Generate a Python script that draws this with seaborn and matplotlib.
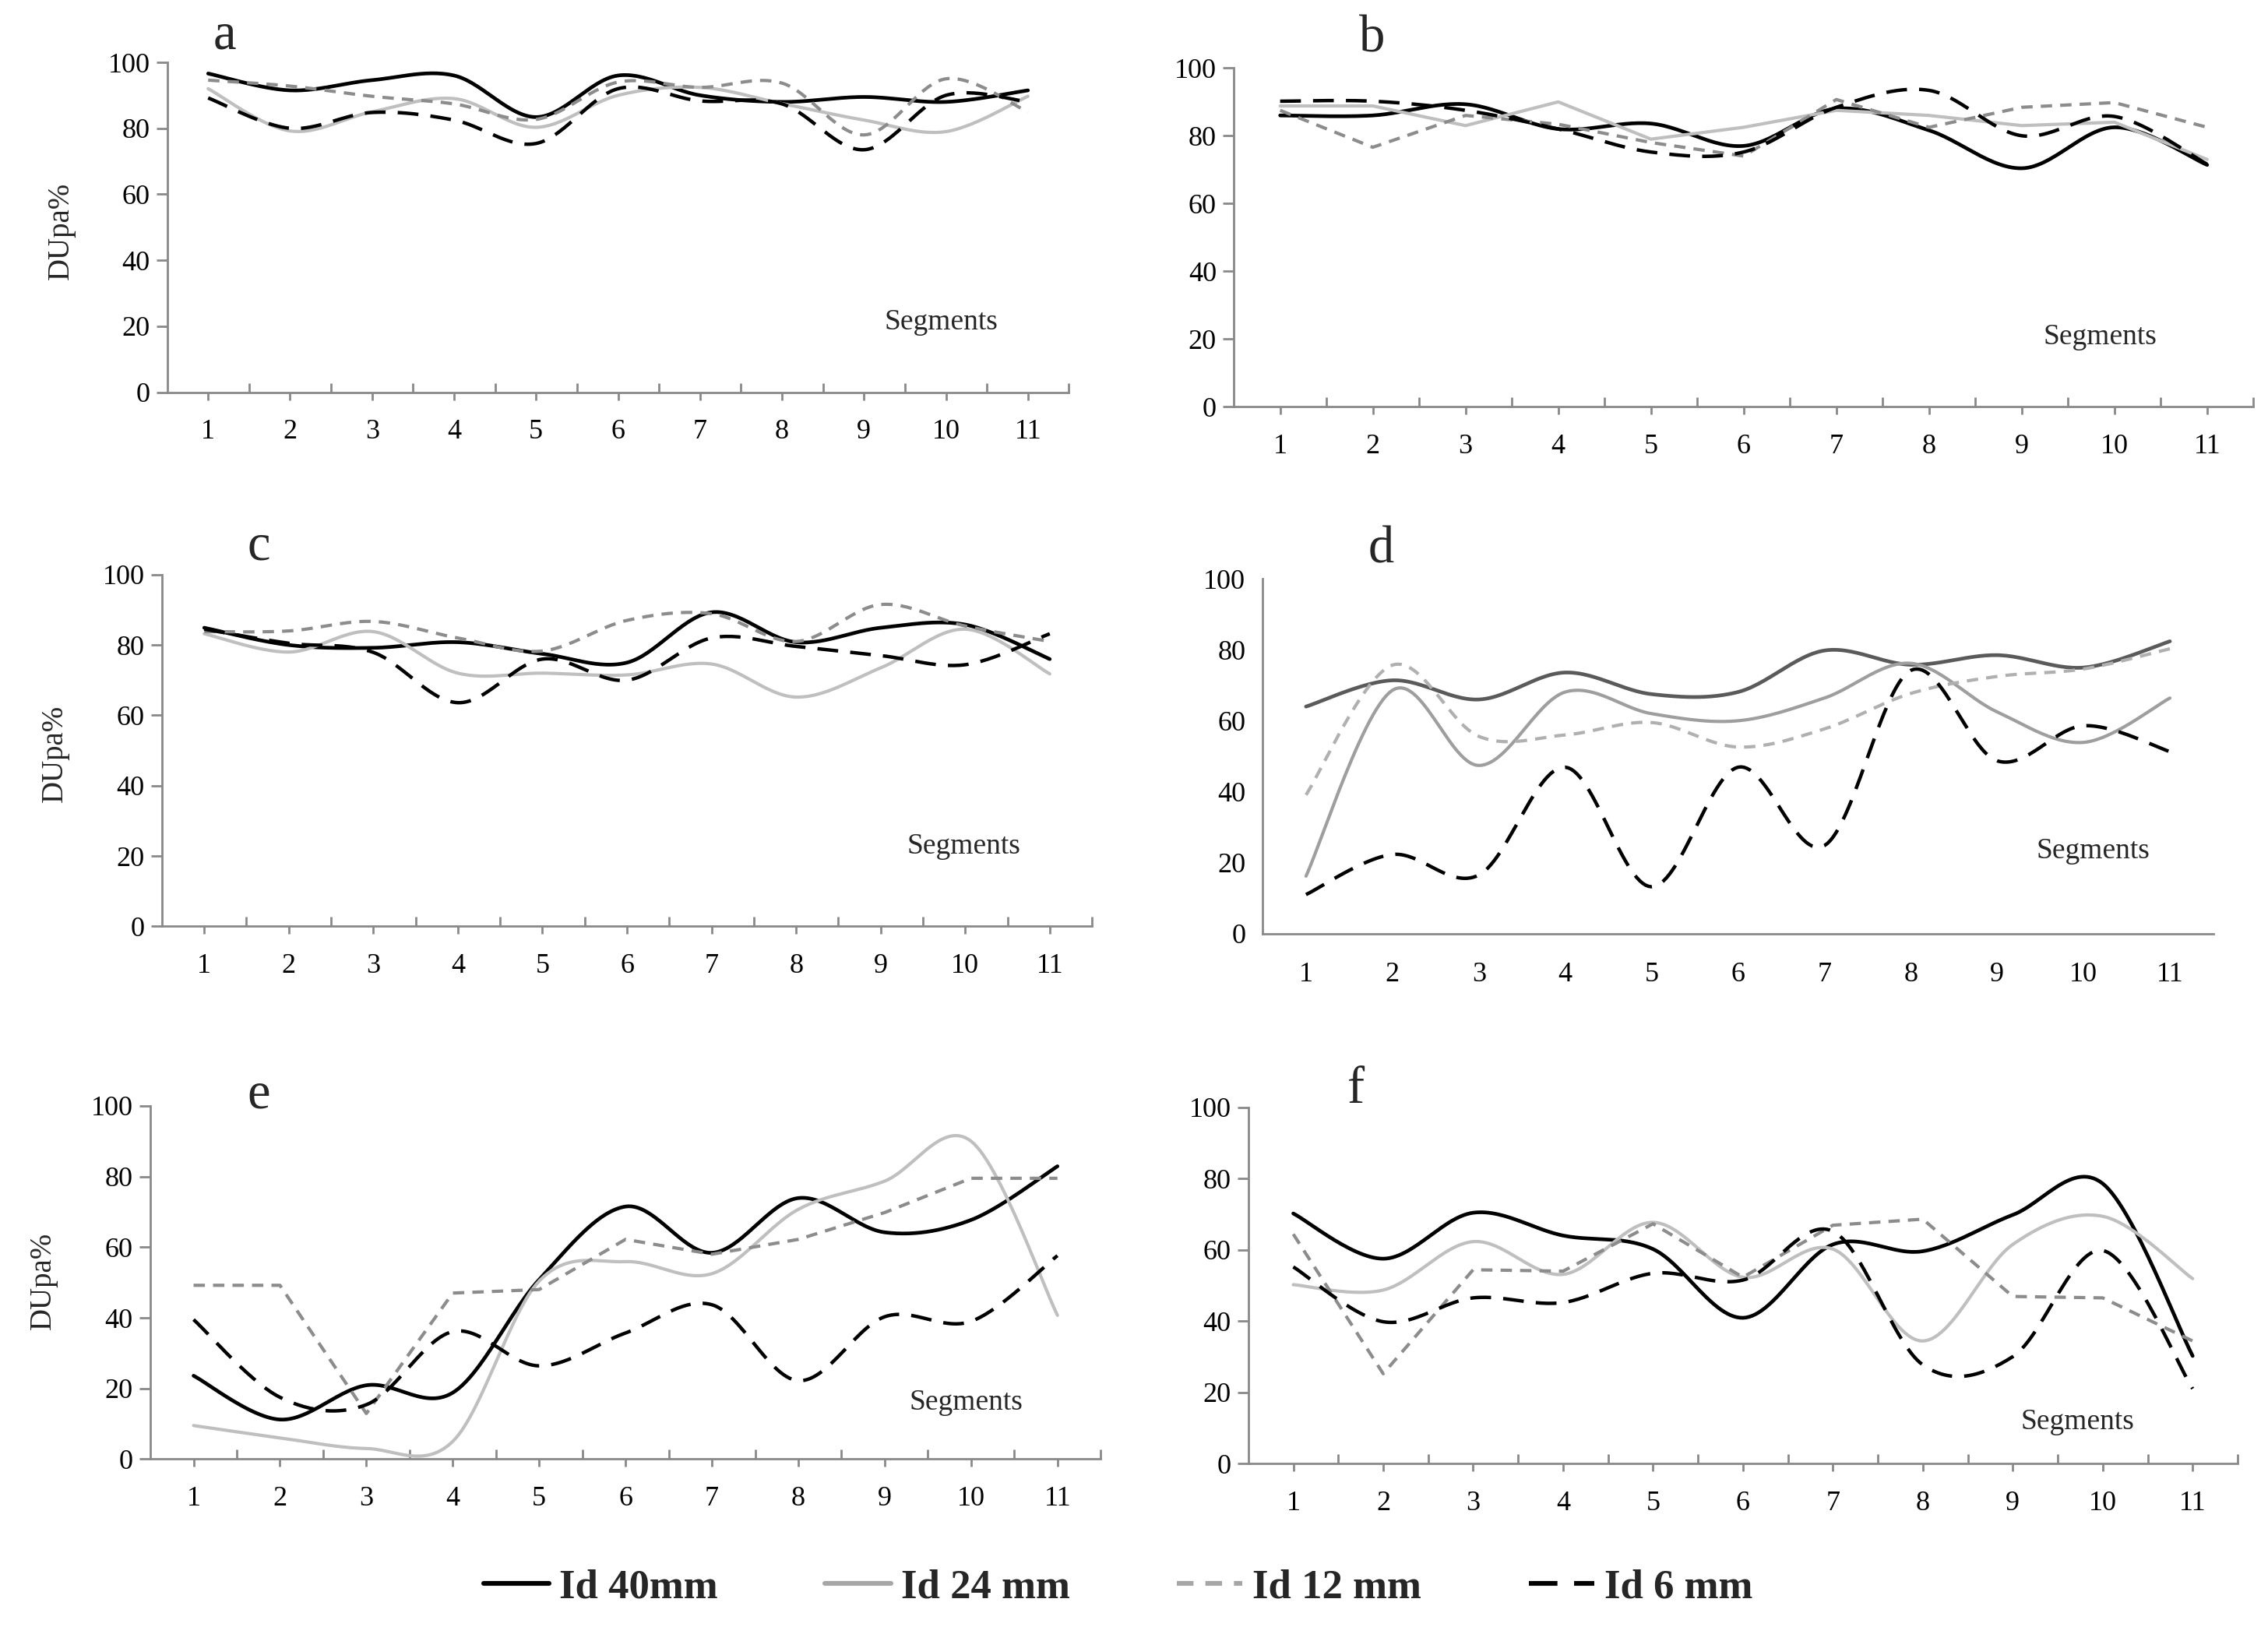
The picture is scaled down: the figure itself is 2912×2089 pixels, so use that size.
import numpy as np
import pandas as pd
import seaborn as sns
import matplotlib
matplotlib.use('Agg')
import matplotlib.pyplot as plt
from matplotlib.lines import Line2D
from matplotlib.ticker import FixedLocator

segments = list(range(1, 12))
series_names = ['Id 40mm', 'Id 24 mm', 'Id 12 mm', 'Id 6 mm']

# DUpa% per segment
a_40 = [96.6, 91.5, 94.6, 96.0, 83.4, 96.0, 90.0, 88.0, 89.5, 88.0, 91.5]
a_24 = [92.0, 79.2, 85.0, 89.0, 80.3, 90.0, 92.4, 87.5, 82.5, 79.0, 89.7]
a_12 = [94.6, 92.8, 89.7, 87.4, 82.7, 94.0, 92.4, 93.7, 78.0, 95.0, 85.0]
a_6 = [89.2, 80.0, 84.8, 82.5, 75.4, 92.0, 88.3, 87.4, 73.5, 90.0, 88.0]

b_40 = [86.0, 86.0, 89.3, 82.0, 83.6, 77.0, 88.0, 81.6, 70.4, 82.5, 71.4]
b_24 = [88.8, 88.8, 83.0, 90.0, 79.0, 82.5, 87.5, 86.0, 83.0, 84.0, 73.0]
b_12 = [87.5, 76.6, 86.0, 83.4, 78.0, 74.0, 90.7, 82.5, 88.4, 89.8, 82.5]
b_6 = [90.2, 90.2, 87.5, 82.0, 75.2, 75.2, 88.4, 93.4, 80.0, 85.7, 71.6]

c_40 = [84.9, 80.0, 79.2, 80.8, 77.5, 75.0, 89.3, 80.8, 84.9, 85.8, 76.0]
c_24 = [83.2, 78.0, 83.8, 72.0, 72.0, 71.5, 74.6, 65.2, 73.5, 84.5, 71.8]
c_12 = [83.8, 84.0, 86.7, 82.0, 78.3, 87.0, 88.9, 81.0, 91.5, 85.4, 81.0]
c_6 = [84.5, 80.5, 77.9, 63.6, 76.0, 70.0, 82.0, 79.6, 77.0, 74.4, 83.2]

d_40 = [64.0, 71.4, 66.0, 73.6, 67.5, 68.1, 79.8, 75.8, 78.5, 75.0, 82.4]
d_24 = [16.2, 68.6, 47.4, 68.1, 62.0, 60.0, 66.4, 76.2, 62.5, 53.9, 66.4]
d_12 = [39.1, 75.7, 55.6, 56.0, 59.5, 52.6, 57.7, 67.7, 72.5, 74.6, 80.3]
d_6 = [11.0, 22.3, 16.5, 46.9, 13.2, 46.9, 24.8, 74.2, 48.7, 58.6, 51.3]

e_40 = [23.6, 11.2, 20.9, 18.8, 50.8, 71.5, 58.4, 73.9, 64.2, 67.7, 82.9]
e_24 = [9.5, 6.0, 3.0, 5.0, 50.4, 55.9, 52.5, 70.7, 78.7, 90.0, 40.7]
e_12 = [49.2, 49.2, 12.9, 47.0, 48.0, 62.2, 58.0, 62.2, 69.8, 79.5, 79.5]
e_6 = [39.5, 17.5, 15.4, 36.1, 26.4, 35.7, 43.7, 22.2, 40.3, 39.0, 57.6]

f_40 = [70.2, 57.5, 70.4, 64.0, 60.2, 40.9, 61.5, 59.6, 69.8, 78.6, 30.2]
f_24 = [50.2, 48.7, 62.3, 53.1, 67.7, 52.3, 60.2, 34.4, 61.5, 69.4, 51.9]
f_12 = [64.4, 25.2, 54.4, 54.0, 67.3, 52.3, 66.9, 68.6, 46.9, 46.5, 34.4]
f_6 = [55.2, 39.8, 46.5, 45.2, 53.4, 51.5, 65.2, 27.7, 30.0, 59.8, 21.0]


def smooth_curve(xs, ys, n=30):
    # excel style smoothed line (bezier through the points)
    p = np.column_stack([xs, ys]).astype(float)
    pts = [p[0]]
    t = np.linspace(0, 1, n)[1:, None]
    for i in range(len(p) - 1):
        p0 = p[i - 1] if i > 0 else p[i]
        p1, p2 = p[i], p[i + 1]
        p3 = p[i + 2] if i + 2 < len(p) else p[i + 1]
        b1 = p1 + (p2 - p0) / 6
        b2 = p2 - (p3 - p1) / 6
        seg = (1 - t) ** 3 * p1 + 3 * (1 - t) ** 2 * t * b1 + 3 * (1 - t) * t ** 2 * b2 + t ** 3 * p2
        pts.extend(seg)
    pts = np.array(pts)
    return pts[:, 0], pts[:, 1]


sns.set_theme(style='white')
plt.rcParams['font.family'] = ['Liberation Serif', 'DejaVu Serif']

fig = plt.figure(figsize=(14.56, 10.445), dpi=200)

normal_style = {
    'Id 40mm': dict(color='#000000', lw=1.7, ls='-'),
    'Id 24 mm': dict(color='#bfbfbf', lw=1.5, ls='-'),
    'Id 12 mm': dict(color='#8c8c8c', lw=1.5, ls=(0, (3.5, 2.5))),
    'Id 6 mm': dict(color='#000000', lw=1.6, ls=(0, (6, 3.5))),
}
d_style = {
    'Id 40mm': dict(color='#5a5a5a', lw=1.7, ls='-'),
    'Id 24 mm': dict(color='#9e9e9e', lw=1.5, ls='-'),
    'Id 12 mm': dict(color='#b0b0b0', lw=1.5, ls=(0, (3.5, 2.5))),
    'Id 6 mm': dict(color='#000000', lw=1.6, ls=(0, (6, 3.5))),
}

# panel: (label, data, straight-line series, axes rect, letter pos, segments pos, ylabel pos)
panels = [
    ('a', [a_40, a_24, a_12, a_6], [], [0.0737, 0.7589, 0.3976, 0.2028], (0.099, 0.978), (0.415, 0.802), (0.027, 0.858)),
    ('b', [b_40, b_24, b_12, b_6], ['Id 24 mm', 'Id 12 mm'], [0.5440, 0.7500, 0.4496, 0.2082], (0.605, 0.976), (0.926, 0.793), None),
    ('c', [c_40, c_24, c_12, c_6], [], [0.0714, 0.4306, 0.4101, 0.2162], (0.114, 0.664), (0.425, 0.480), (0.024, 0.537)),
    ('d', [d_40, d_24, d_12, d_6], [], [0.5568, 0.4262, 0.4190, 0.2180], (0.609, 0.662), (0.923, 0.477), None),
    ('e', [e_40, e_24, e_12, e_6], ['Id 12 mm'], [0.0663, 0.1032, 0.4190, 0.2171], (0.114, 0.327), (0.426, 0.138), (0.019, 0.213)),
    ('f', [f_40, f_24, f_12, f_6], ['Id 12 mm'], [0.5504, 0.1005, 0.4362, 0.2189], (0.598, 0.330), (0.916, 0.126), None),
]

axis_grey = '#898989'

for label, data, straight, rect, lpos, spos, ypos in panels:
    ax = fig.add_axes(rect)
    styles = d_style if label == 'd' else normal_style
    for name, vals in zip(series_names, data):
        st = styles[name]
        if name in straight:
            xs, ys = np.array(segments, float), np.array(vals, float)
        else:
            xs, ys = smooth_curve(segments, vals)
        sns.lineplot(x=xs, y=ys, ax=ax, color=st['color'], linewidth=st['lw'],
                     linestyle=st['ls'], estimator=None, sort=False)

    ax.set_xlim(0.5, 11.5)
    ax.set_ylim(0, 100)
    ax.set_yticks([0, 20, 40, 60, 80, 100])
    ax.set_xticks(segments)
    ax.set_xticklabels([str(s) for s in segments])
    ax.xaxis.set_minor_locator(FixedLocator(np.arange(1.5, 12, 1.0)))
    for side in ['top', 'right']:
        ax.spines[side].set_visible(False)
    for side in ['left', 'bottom']:
        ax.spines[side].set_color(axis_grey)
        ax.spines[side].set_linewidth(1.0)
    ax.tick_params(axis='y', direction='out', length=5, width=1.0, color=axis_grey,
                   labelsize=13, pad=3, left=True, labelcolor='black')
    if label == 'd':
        ax.tick_params(axis='x', which='both', length=0, labelsize=13, pad=13, labelcolor='black')
        ax.tick_params(axis='y', length=0, pad=8)
    else:
        ax.tick_params(axis='x', which='major', direction='out', length=3.5, width=1.0,
                       color=axis_grey, labelsize=13, pad=9, bottom=True, labelcolor='black')
        ax.tick_params(axis='x', which='minor', direction='in', length=4.5, width=1.0,
                       color=axis_grey, bottom=True)
    ax.set_xlabel('')
    ax.set_ylabel('')
    ax.grid(False)

    fig.text(lpos[0], lpos[1], label, fontsize=24, ha='center', va='center')
    fig.text(spos[0], spos[1], 'Segments', fontsize=13.5, ha='center', va='center')
    if ypos is not None:
        fig.text(ypos[0], ypos[1], 'DUpa%', fontsize=14, rotation=90, ha='center', va='center')

legend_colors = ['#000000', '#a6a6a6', '#a6a6a6', '#000000']
handles = []
for name, col in zip(series_names, legend_colors):
    st = normal_style[name]
    handles.append(Line2D([0], [0], color=col, lw=2.2, linestyle=st['ls']))
fig.legend(handles, series_names, loc='center', bbox_to_anchor=(0.493, 0.024), ncol=4,
           frameon=False, handlelength=1.6, handletextpad=0.25, columnspacing=2.6,
           prop={'family': 'Liberation Serif', 'weight': 'bold', 'size': 19})

fig.savefig('out.png', dpi=200)
